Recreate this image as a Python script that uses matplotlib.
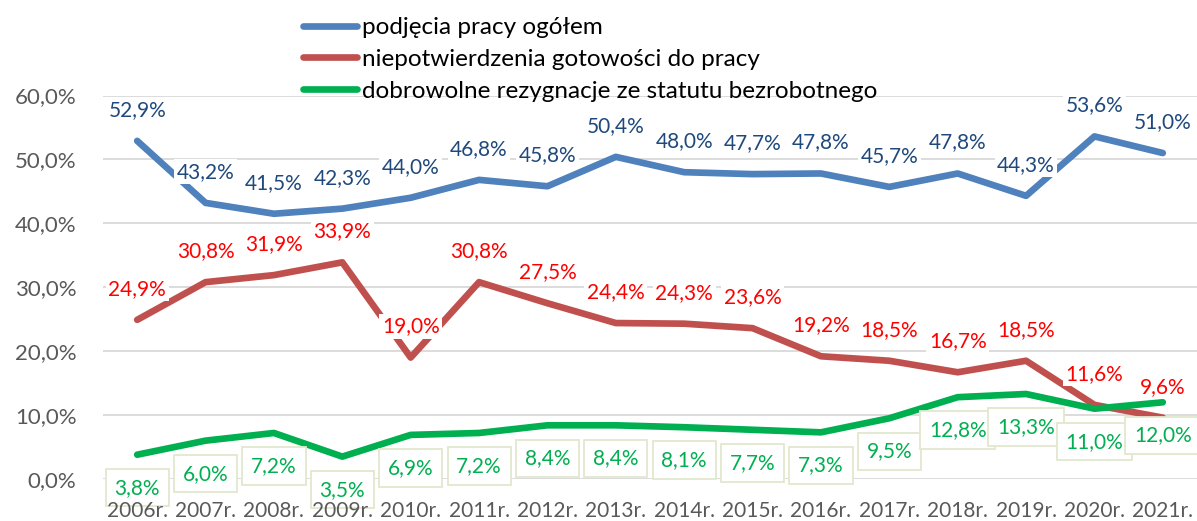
import matplotlib
matplotlib.use("Agg")
import matplotlib.pyplot as plt

years = ['2006r.', '2007r.', '2008r.', '2009r.', '2010r.', '2011r.', '2012r.', '2013r.',
         '2014r.', '2015r.', '2016r.', '2017r.', '2018r.', '2019r.', '2020r.', '2021r.']
podjecia = [52.9, 43.2, 41.5, 42.3, 44.0, 46.8, 45.8, 50.4, 48.0, 47.7, 47.8, 45.7, 47.8, 44.3, 53.6, 51.0]
niepotwierdzenia = [24.9, 30.8, 31.9, 33.9, 19.0, 30.8, 27.5, 24.4, 24.3, 23.6, 19.2, 18.5, 16.7, 18.5, 11.6, 9.6]
dobrowolne = [3.8, 6.0, 7.2, 3.5, 6.9, 7.2, 8.4, 8.4, 8.1, 7.7, 7.3, 9.5, 12.8, 13.3, 11.0, 12.0]
series_names = ['podjęcia pracy ogółem',
                'niepotwierdzenia gotowości do pracy',
                'dobrowolne rezygnacje ze statutu bezrobotnego']
yticks = [0, 10, 20, 30, 40, 50, 60]

plt.rcParams['font.family'] = ['Lato', 'DejaVu Sans']
FS = 15
FS_Y = 16
FS_LEG = 17.5

W, H = 1197, 521
fig = plt.figure(figsize=(W / 100, H / 100), dpi=100)
ax = fig.add_axes([103 / W, (H - 479) / H, (W - 103) / W, (479 - 95.5) / H])

x = list(range(len(years)))
line_colors = ['#4F81BD', '#C0504D', '#00B050']
text_colors = ['#1F497D', '#FF0000', '#00B050']
data = [podjecia, niepotwierdzenia, dobrowolne]

handles = []
for vals, lc, name in zip(data, line_colors, series_names):
    h, = ax.plot(x, vals, color=lc, lw=4.8, solid_capstyle='round',
                 solid_joinstyle='round', zorder=3, label=name)
    handles.append(h)

def fmt(v):
    return f"{v:.1f}%".replace('.', ',')

for i, v in enumerate(podjecia):
    ax.annotate(fmt(v), (i, v), xytext=(0, 31), textcoords='offset pixels',
                ha='center', va='center', fontsize=FS, color=text_colors[0], zorder=5,
                bbox=dict(boxstyle='square,pad=0.12', fc='white', ec='none'))
for i, v in enumerate(niepotwierdzenia):
    ax.annotate(fmt(v), (i, v), xytext=(0, 31), textcoords='offset pixels',
                ha='center', va='center', fontsize=FS, color=text_colors[1], zorder=5,
                bbox=dict(boxstyle='square,pad=0.12', fc='white', ec='none'))
for i, v in enumerate(dobrowolne):
    ax.annotate(fmt(v), (i, v), xytext=(0, -33), textcoords='offset pixels',
                ha='center', va='center', fontsize=FS, color=text_colors[2], zorder=5,
                bbox=dict(boxstyle='square,pad=0.42', fc='white', ec='#E2E8CE', lw=1.3))

ax.set_xlim(-0.5, len(years) - 0.5)
ax.set_ylim(0, 60)
ax.set_yticks(yticks)
ax.set_yticklabels([f"{t:.1f}%".replace('.', ',') for t in yticks])
ax.set_xticks(x)
ax.set_xticklabels(years)
ax.tick_params(axis='both', length=0, labelcolor='#595959')
ax.tick_params(axis='x', labelsize=FS, pad=16)
ax.tick_params(axis='y', labelsize=FS_Y, pad=19)
ax.grid(axis='y', color='#D9D9D9', lw=1.3, zorder=0)
ax.set_axisbelow(True)
ax.xaxis.set_zorder(6)
for s in ax.spines.values():
    s.set_visible(False)

fs_px = FS_LEG * 100 / 72
fig.legend(handles=handles, loc='upper left', bbox_to_anchor=(303 / W, 1 - 17 / H),
           frameon=False, fontsize=FS_LEG, borderpad=0, borderaxespad=0,
           handlelength=54 / fs_px, handletextpad=5 / fs_px, labelspacing=0.45,
           labelcolor='black')

fig.savefig('out.png', dpi=100)
